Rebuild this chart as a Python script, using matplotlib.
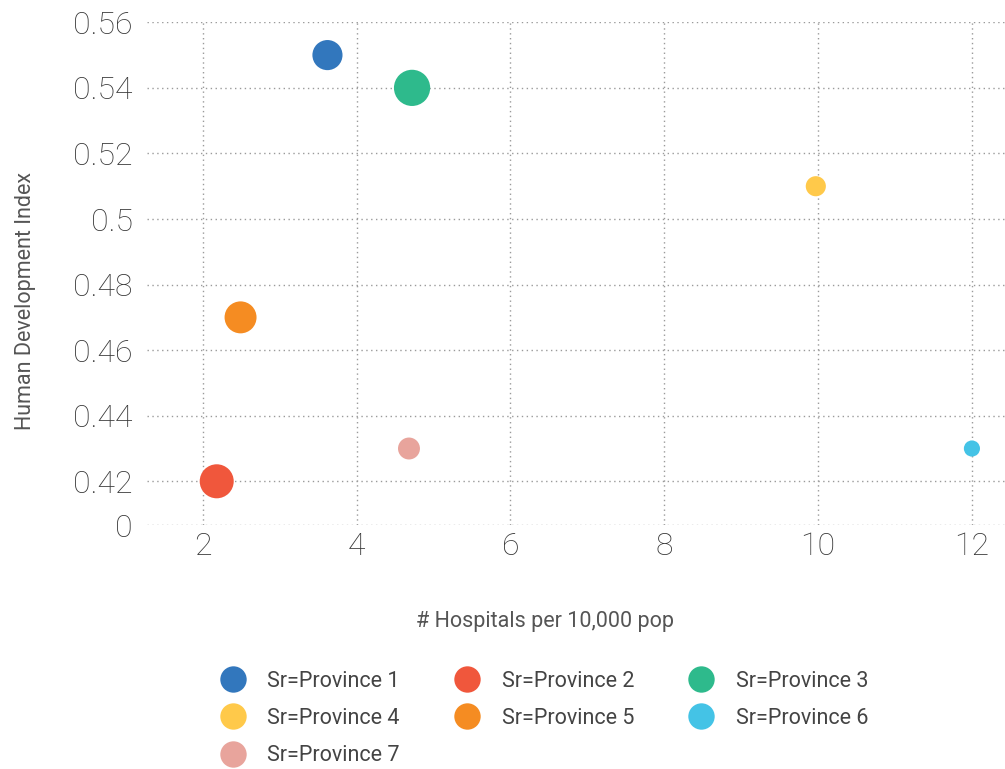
import matplotlib.pyplot as plt
from matplotlib.lines import Line2D

plt.rcParams['font.family'] = ['Roboto', 'DejaVu Sans']

# Province data
provinces = ['Sr=Province 1', 'Sr=Province 2', 'Sr=Province 3', 'Sr=Province 4',
             'Sr=Province 5', 'Sr=Province 6', 'Sr=Province 7']
hospitals = [3.62, 2.18, 4.72, 9.97, 2.49, 12.0, 4.68]
hdi = [0.55, 0.42, 0.54, 0.51, 0.47, 0.43, 0.43]
bubble_sizes = [470, 600, 680, 210, 530, 135, 250]
colors = ['#3277BD', '#F0573C', '#2EBA8C', '#FFC94A', '#F58C22', '#44C3E6', '#E8A49C']

y_ticks = [0.4066, 0.42, 0.44, 0.46, 0.48, 0.50, 0.52, 0.54, 0.56]
y_labels = ['0', '0.42', '0.44', '0.46', '0.48', '0.5', '0.52', '0.54', '0.56']
x_ticks = [2, 4, 6, 8, 10, 12]

fig = plt.figure(figsize=(10.05, 7.69), dpi=100)
ax = fig.add_axes([0.146, 0.317, 0.854, 0.654])

for x, y, s, c in zip(hospitals, hdi, bubble_sizes, colors):
    ax.scatter(x, y, s=s, color=c, edgecolors='none', zorder=3)

ax.set_xlim(1.27, 12.43)
ax.set_ylim(0.4066, 0.56)
ax.set_xticks(x_ticks)
ax.set_xticklabels([str(v) for v in x_ticks])
ax.set_yticks(y_ticks)
ax.set_yticklabels(y_labels)
ax.tick_params(axis='both', length=0, labelsize=23, labelcolor='#383838')
ax.tick_params(axis='y', pad=10)
ax.tick_params(axis='x', pad=5)
for lbl in ax.get_xticklabels() + ax.get_yticklabels():
    lbl.set_fontweight('light')

ax.grid(True, color='#9a9a9a', linestyle=(0, (1, 2.5)), linewidth=1)
for sp in ax.spines.values():
    sp.set_visible(False)

ax.set_xlabel('# Hospitals per 10,000 pop', fontsize=15.5, color='#555555')
ax.xaxis.set_label_coords(0.464, -0.191)
ax.set_ylabel('Human Development Index', fontsize=15.5, color='#555555')
ax.yaxis.set_label_coords(-0.141, 0.445)
ax.xaxis.label.set_va('center')
ax.yaxis.label.set_va('center')

# legend laid out row by row (matplotlib fills columns first)
order = [0, 3, 6, 1, 4, 2, 5]
handles = [Line2D([], [], marker='o', linestyle='none', markersize=19,
                  markerfacecolor=colors[i], markeredgecolor='none') for i in order]
labels = [provinces[i] for i in order]
fig.legend(handles, labels, ncol=3, loc='upper left', bbox_to_anchor=(0.210, 0.128),
           frameon=False, fontsize=15.5, labelcolor='#444444',
           handletextpad=0.62, columnspacing=2.1, labelspacing=0.76,
           borderaxespad=0, borderpad=0)

fig.savefig('out.png', dpi=100)
